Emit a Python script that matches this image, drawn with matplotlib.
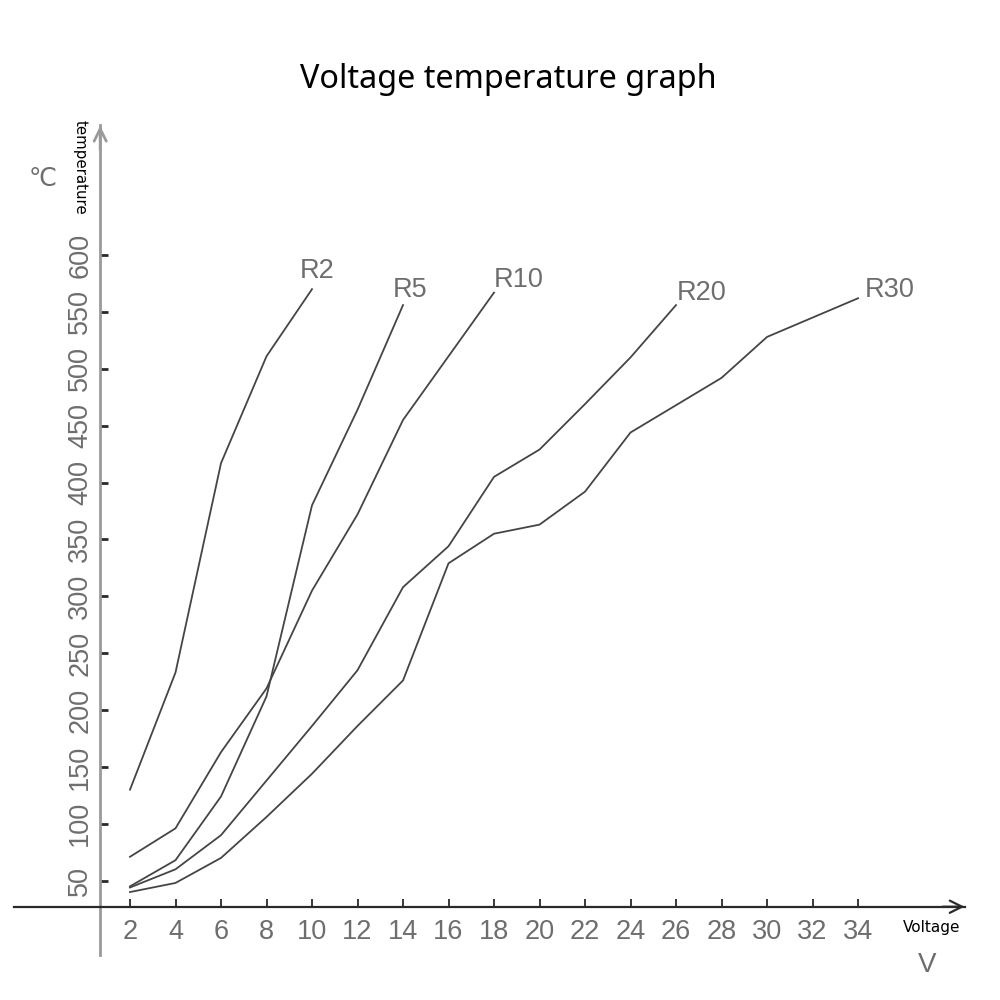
import numpy as np
import matplotlib
matplotlib.use("Agg")
import matplotlib.pyplot as plt

# Voltage (V) readings per resistor curve, temperature in degC
v_r2 = [2, 4, 6, 8, 10]
t_r2 = [130, 233, 417, 511, 570]

v_r5 = [2, 4, 6, 8, 10, 12, 14]
t_r5 = [45, 68, 124, 212, 380, 464, 556]

v_r10 = [2, 4, 6, 8, 10, 12, 14, 16, 18]
t_r10 = [71, 96, 163, 219, 305, 372, 455, 511, 567]

v_r20 = [2, 4, 6, 8, 10, 12, 14, 16, 18, 20, 22, 24, 26]
t_r20 = [44, 60, 90, 138, 186, 235, 308, 344, 405, 429, 469, 510, 556]

v_r30 = [2, 4, 6, 8, 10, 12, 14, 16, 18, 20, 22, 24, 26, 28, 30, 32, 34]
t_r30 = [40, 48, 70, 106, 144, 186, 226, 329, 355, 363, 392, 444, 468, 492, 528, 545, 562]

# label offset from the curve's last point (volts, degrees)
curves = [("R2", v_r2, t_r2, (-0.53, 9.7)),
          ("R5", v_r5, t_r5, (-0.44, 7)),
          ("R10", v_r10, t_r10, (0.0, 5.3)),
          ("R20", v_r20, t_r20, (0.04, 4.4)),
          ("R30", v_r30, t_r30, (0.31, 0.9))]

x_ticks = list(range(2, 35, 2))
y_ticks = list(range(50, 601, 50))

grey = "#6e6e6e"
line_col = "#454545"
plt.rcParams['font.family'] = ['Liberation Sans', 'DejaVu Sans']

fig = plt.figure(figsize=(10, 10), dpi=100)
ax = fig.add_axes([0, 0, 1, 1])
ax.set_xlim(-3.714, 40.24)
ax.set_ylim(-54.9, 824.2)

for name, xs, ys, (dx, dy) in curves:
    ax.plot(xs, ys, color=line_col, lw=1.3)
    ax.text(xs[-1] + dx, ys[-1] + dy, name, color=grey, fontsize=19.5,
            ha="left", va="baseline")

# axes through the data-space origin of the drawing
x0, y0 = 0.69, 27.1
for s in ["top", "right"]:
    ax.spines[s].set_visible(False)
ax.spines["left"].set_position(("data", x0))
ax.spines["bottom"].set_position(("data", y0))
ax.spines["left"].set_bounds(-15.3, 714)
ax.spines["bottom"].set_bounds(-3.1, 38.7)
ax.spines["left"].set_color("#9a9a9a")
ax.spines["left"].set_linewidth(2.0)
ax.spines["bottom"].set_color("#2a2a2a")
ax.spines["bottom"].set_linewidth(1.6)

ax.set_xticks(x_ticks)
ax.set_yticks(y_ticks)
ax.tick_params(axis="x", direction="in", length=6, width=1.3, color="#2a2a2a",
               labelsize=19.5, labelcolor=grey, pad=9)
ax.tick_params(axis="y", direction="in", length=6, width=2.0, color="#2a2a2a",
               labelsize=19.5, labelcolor=grey, pad=5)
for lab in ax.get_yticklabels():
    lab.set_rotation(90)
    lab.set_va("center")

# arrow heads
ax.annotate("", xy=(38.8, y0), xytext=(37.6, y0),
            arrowprops=dict(arrowstyle="->", color="#2a2a2a", lw=1.6,
                            mutation_scale=22))
ax.annotate("", xy=(x0, 716), xytext=(x0, 690),
            arrowprops=dict(arrowstyle="->", color="#9a9a9a", lw=2.0,
                            mutation_scale=22))

ax.text(-0.2, 718.7, "temperature", rotation=-90, fontsize=10.8, color="black",
        ha="center", va="top", family=["DejaVu Sans"])
ax.text(-1.83, 666.6, "℃", fontsize=18, color=grey, ha="center", va="center",
        family=["DejaVu Sans"])
ax.text(35.98, 8.4, "Voltage", fontsize=11, color="black", ha="left",
        va="center", family=["DejaVu Sans"])
ax.text(37.03, -24.1, "V", fontsize=20, color=grey, ha="center", va="center")

fig.text(0.508, 0.92, "Voltage temperature graph", fontsize=23.3,
         ha="center", va="center", color="black", family=["Noto Sans"])

fig.savefig("out.png", dpi=100, facecolor="white")
